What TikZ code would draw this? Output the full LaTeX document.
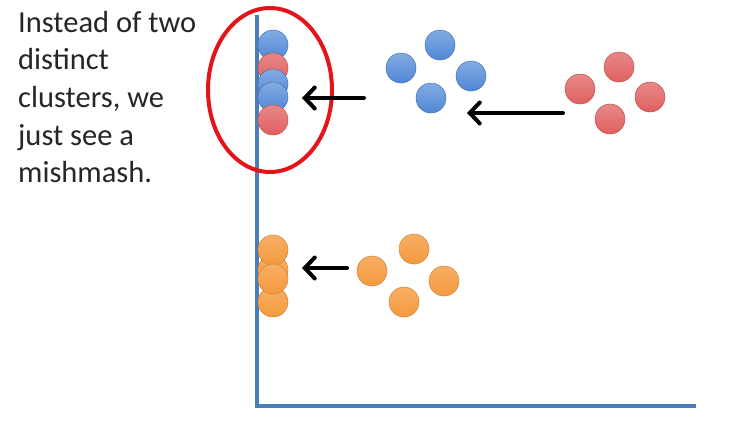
\documentclass[tikz,border=0pt]{standalone}
\usepackage{fontspec}
\setmainfont{Carlito}
\usetikzlibrary{arrows.meta}
\definecolor{slideink}{HTML}{262626}
\definecolor{axisblue}{HTML}{4A7EBB}
\definecolor{ringred}{HTML}{E3151B}
\definecolor{dotblue}{HTML}{4F87D6}
\definecolor{dotred}{HTML}{E06060}
\definecolor{dotorange}{HTML}{F59A3E}

\begin{document}
\begin{tikzpicture}[
  x=1pt,
  y=-1pt,
  every node/.style={slideink},
  axis/.style={axisblue, line width=3.2pt},
  dot/.style={circle, minimum size=30pt, inner sep=0pt, line width=0.5pt},
  bluedot/.style={dot, draw=dotblue!85!black, top color=dotblue!70!white, bottom color=dotblue},
  reddot/.style={dot, draw=dotred!85!black, top color=dotred!75!white, bottom color=dotred},
  orangedot/.style={dot, draw=dotorange!85!black, top color=dotorange!80!white, bottom color=dotorange},
  projarrow/.style={black, line width=4pt, line cap=round,
    -{Straight Barb[length=10pt, width=21pt, line width=4pt, line cap=round]}},
  ring/.style={ringred, line width=4pt}
]
  \useasboundingbox[fill=white] (0,0) rectangle (741,424);

  % ---- caption ----------------------------------------------------------
  \node[anchor=north west, align=left, inner sep=0pt,
        font=\fontsize{30.5}{37.6}\selectfont] (caption) at (18,11)
    {Instead of two\\distinct\\clusters, we\\just see a\\mishmash.};

  % ---- axes -------------------------------------------------------------
  \coordinate (top) at (257,15);
  \coordinate (origin) at (257,406);
  \coordinate (right) at (696,406);
  \draw[axis] (top) -- (origin) -- (right);

  % ---- projected points on the axis ------------------------------------
  \node[bluedot] (pb1) at (273,45) {};
  \node[reddot] (pr1) at (273,68) {};
  \node[bluedot] (pb2) at (273,84) {};
  \node[bluedot] (pb3) at (273,97) {};
  \node[reddot] (pr2) at (273,120) {};

  \node[orangedot] (po1) at (273,302) {};
  \node[orangedot] (po2) at (273,270) {};
  \node[orangedot] (po3) at (273,250) {};
  \node[orangedot] (po4) at (273,279) {};

  % ---- the mishmash -----------------------------------------------------
  \draw[ring] (270,90) ellipse [x radius=62, y radius=82];

  % ---- blue cluster -----------------------------------------------------
  \node[bluedot] (b1) at (440,45) {};
  \node[bluedot] (b2) at (401,68) {};
  \node[bluedot] (b3) at (471,76) {};
  \node[bluedot] (b4) at (431,98) {};

  % ---- red cluster ------------------------------------------------------
  \node[reddot] (r1) at (619,67) {};
  \node[reddot] (r2) at (580,89) {};
  \node[reddot] (r3) at (650,97) {};
  \node[reddot] (r4) at (610,119) {};

  % ---- orange cluster ---------------------------------------------------
  \node[orangedot] (o1) at (414,249) {};
  \node[orangedot] (o2) at (372,271) {};
  \node[orangedot] (o3) at (444,281) {};
  \node[orangedot] (o4) at (404,302) {};

  % ---- projection arrows ------------------------------------------------
  \coordinate (a1s) at (364,98);
  \coordinate (a1e) at (302,98);
  \coordinate (a2s) at (563,113);
  \coordinate (a2e) at (467,113);
  \coordinate (a3s) at (347,268);
  \coordinate (a3e) at (302,268);
  \draw[projarrow] (a1s) -- (a1e);
  \draw[projarrow] (a2s) -- (a2e);
  \draw[projarrow] (a3s) -- (a3e);
\end{tikzpicture}
\end{document}
